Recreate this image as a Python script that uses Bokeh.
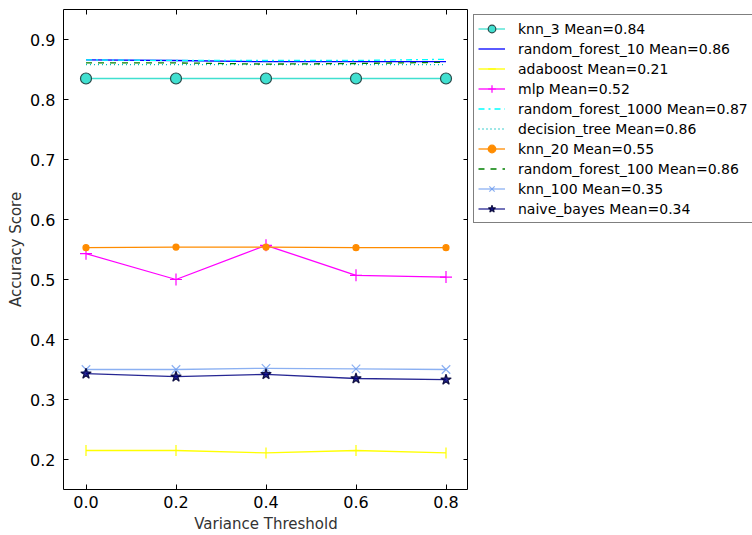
from bokeh.plotting import figure
from bokeh.layouts import row
from bokeh.models import (Legend, LegendItem, LinearAxis, FixedTicker, PrintfTickFormatter,
                          Range1d, CustomJSTickFormatter, ColumnDataSource)
from bokeh.embed import file_html
from bokeh.resources import INLINE
import math

thresholds = [0.0, 0.2, 0.4, 0.6, 0.8]

knn_3 = [0.835, 0.835, 0.835, 0.835, 0.835]
random_forest_10 = [0.866, 0.865, 0.863, 0.863, 0.863]
adaboost = [0.215, 0.215, 0.211, 0.215, 0.211]
mlp = [0.543, 0.500, 0.557, 0.507, 0.504]
random_forest_1000 = [0.866, 0.865, 0.865, 0.865, 0.867]
decision_tree = [0.858, 0.858, 0.858, 0.858, 0.858]
knn_20 = [0.553, 0.554, 0.554, 0.553, 0.553]
random_forest_100 = [0.861, 0.861, 0.859, 0.860, 0.862]
knn_100 = [0.350, 0.350, 0.352, 0.351, 0.350]
naive_bayes = [0.343, 0.338, 0.342, 0.335, 0.333]

labels = [
    "knn_3 Mean=0.84",
    "random_forest_10 Mean=0.86",
    "adaboost Mean=0.21",
    "mlp Mean=0.52",
    "random_forest_1000 Mean=0.87",
    "decision_tree Mean=0.86",
    "knn_20 Mean=0.55",
    "random_forest_100 Mean=0.86",
    "knn_100 Mean=0.35",
    "naive_bayes Mean=0.34",
]
x_ticks = [0.0, 0.2, 0.4, 0.6, 0.8]
y_ticks = [0.2, 0.3, 0.4, 0.5, 0.6, 0.7, 0.8, 0.9]

FONT = "DejaVu Sans"

p = figure(frame_width=405, frame_height=480, x_range=Range1d(-0.05, 0.85), y_range=Range1d(0.15, 0.95),
           output_backend="svg", toolbar_location=None,
           min_border_left=63, min_border_bottom=46, min_border_top=9, min_border_right=0,
           x_axis_label="Variance Threshold", y_axis_label="Accuracy Score")
p.grid.visible = False
p.outline_line_color = "black"
p.outline_line_width = 1
p.background_fill_color = "white"
p.border_fill_color = "white"

for ax, ticks in ((p.xaxis[0], x_ticks), (p.yaxis[0], y_ticks)):
    ax.ticker = FixedTicker(ticks=ticks)
    ax.formatter = PrintfTickFormatter(format="%.1f")
    ax.major_tick_in = 5
    ax.major_tick_out = 0
    ax.minor_tick_line_color = None
    ax.axis_line_color = None
    ax.major_label_text_font = FONT
    ax.major_label_text_font_size = "16px"
    ax.major_label_text_color = "black"
    ax.axis_label_text_font = FONT
    ax.axis_label_text_font_size = "15px"
    ax.axis_label_text_font_style = "normal"
    ax.axis_label_text_color = "#333333"
p.yaxis[0].major_label_standoff = 8
p.yaxis[0].axis_label_standoff = 2
p.xaxis[0].major_label_standoff = 6
p.xaxis[0].axis_label_standoff = 4

for loc, ticks in (("right", y_ticks), ("above", x_ticks)):
    a = LinearAxis(ticker=FixedTicker(ticks=ticks), major_tick_in=5, major_tick_out=0,
                   minor_tick_line_color=None, axis_line_color=None,
                   formatter=CustomJSTickFormatter(code="return ''"), major_label_standoff=0)
    p.add_layout(a, loc)

# legend panel
lp = figure(width=284, height=535, x_range=Range1d(0, 1), y_range=Range1d(0, 1),
            output_backend="svg", toolbar_location=None, x_axis_type=None, y_axis_type=None,
            min_border_left=0, min_border_right=0, min_border_top=4, min_border_bottom=0)
lp.outline_line_color = None
lp.background_fill_color = "white"
lp.border_fill_color = "white"

items = []
offscreen = dict(x=[-10.0, -9.0], y=[-10.0, -9.0])

def add(ys, label, color, dash="solid", marker=None, msize=8, mfill=None, mline=None,
        alpha=1.0, angle=0.0, lw=1.3):
    line_kw = dict(line_color=color, line_width=lw, line_dash=dash, line_alpha=alpha)
    p.line(thresholds, ys, **line_kw)
    rs = [lp.line("x", "y", source=ColumnDataSource(offscreen), **line_kw)]
    if marker is not None:
        sc_kw = dict(marker=marker, size=msize, angle=angle,
                     fill_color=mfill if mfill else color,
                     line_color=mline if mline else color, line_width=1.2, alpha=alpha)
        p.scatter(thresholds, ys, **sc_kw)
        rs.append(lp.scatter("x", "y", source=ColumnDataSource(offscreen), **sc_kw))
    items.append(LegendItem(label=label, renderers=rs))

add(knn_3, labels[0], "#40E0D0", marker="circle", msize=11, mfill="#40E0D0", mline="#2a4a4a")
add(random_forest_10, labels[1], "#0000FF")
add(adaboost, labels[2], "#FFFF00", marker="dash", msize=11, angle=math.pi / 2)
add(mlp, labels[3], "#FF00FF", marker="cross", msize=12)
add(random_forest_1000, labels[4], "#00FFFF", dash="6 4 2 4")
add(decision_tree, labels[5], "#00BFBF", dash="1 3")
add(knn_20, labels[6], "#FF8C00", marker="circle", msize=6)
add(random_forest_100, labels[7], "#008000", dash="6 6")
add(knn_100, labels[8], "#6495ED", marker="x", msize=12, alpha=0.75)
add(naive_bayes, labels[9], "#000080", marker="star", msize=11, mfill="#000080", mline="#000033", alpha=0.85)

legend = Legend(items=items, location="top_left", margin=5, padding=4, spacing=1,
                label_height=19, glyph_height=19, glyph_width=27, label_standoff=13,
                label_text_font=FONT, label_text_font_size="14px", label_text_color="black",
                border_line_color="black", border_line_width=1, background_fill_alpha=1.0)
lp.add_layout(legend, "center")

layout = row(p, lp, spacing=0)
open("out.html", "w").write(file_html(layout, INLINE))
